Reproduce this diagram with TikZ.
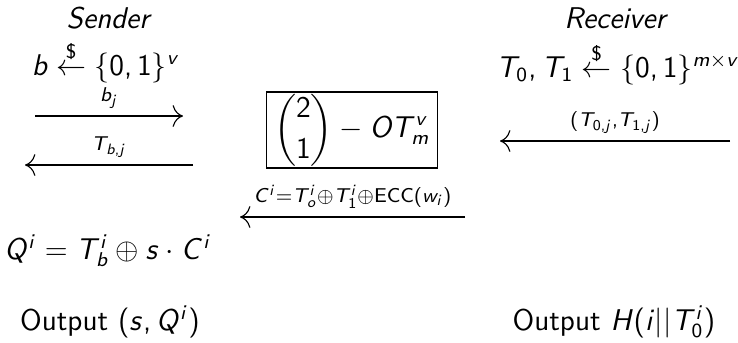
\documentclass[tikz,border=0pt]{standalone}
\usepackage{amsmath}
\usetikzlibrary{arrows.meta,positioning}
\renewcommand{\familydefault}{\sfdefault}
\DeclareMathVersion{sans}
\SetSymbolFont{operators}{sans}{OT1}{cmss}{m}{n}
\SetSymbolFont{letters}{sans}{OT1}{cmss}{m}{it}
\SetMathAlphabet{\mathrm}{sans}{OT1}{cmss}{m}{n}
\AtBeginDocument{\mathversion{sans}\mathcode`\,="602C}
\newcommand{\rnd}{\overset{\$}{\leftarrow}}

\begin{document}
\begin{tikzpicture}[x=0.4pt,y=-0.4pt,font=\fontsize{12}{14}\selectfont,
  txt/.style={anchor=base,inner sep=0pt},
  lbl/.style={above,inner sep=3pt},
  otbox/.style={draw,line width=0.5pt,minimum width=68.4pt,minimum height=30.4pt,inner sep=0pt},
  msg/.style={->,line width=0.45pt},>={Computer Modern Rightarrow[scale=1.6]}]
  \useasboundingbox (0,0) rectangle (738,342);
  \node[txt] (snd) at (108,28) {\itshape Sender};
  \node[txt] (rcv) at (615,28) {\itshape Receiver};
  \node[txt] (sb) at (106,75) {$b\rnd\{0,1\}^v$};
  \node[txt] (rt) at (618,77) {$T_0,T_1\rnd\{0,1\}^{m\times v}$};
  \node[otbox] (ot) at (352,130) {$\displaystyle\binom{2}{1}-OT^v_m$};
  \node[txt] (sq) at (108,259) {$Q^i=T^i_b\oplus s\cdot C^i$};
  \node[txt] (so) at (110,330) {Output $(s,Q^i)$};
  \node[txt] (ro) at (614,330) {Output $H(i||T^i_0)$};
  \coordinate (bjA) at (35,116); \coordinate (bjB) at (183,116);
  \coordinate (tbA) at (25,165); \coordinate (tbB) at (193,165);
  \coordinate (tjA) at (500,141); \coordinate (tjB) at (730,141);
  \coordinate (ciA) at (240,217); \coordinate (ciB) at (465,217);
  \draw[msg] (bjA) -- node[lbl]{$\scriptstyle b_j$} (bjB);
  \draw[msg] (tbB) -- node[lbl]{$\scriptstyle T_{b,j}$} (tbA);
  \draw[msg] (tjB) -- node[lbl]{$\scriptstyle (T_{0,j},T_{1,j})$} (tjA);
  \draw[msg] (ciB) -- node[lbl]{$\scriptstyle C^i=T^i_o\oplus T^i_1\oplus\mathrm{ECC}(w_i)$} (ciA);
\end{tikzpicture}
\end{document}
